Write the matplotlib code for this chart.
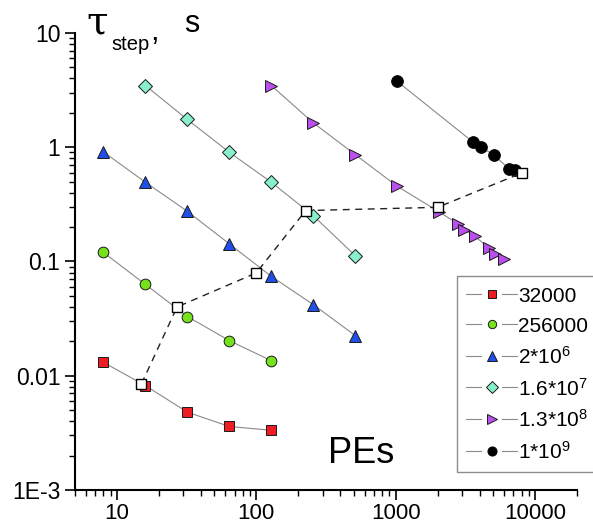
import numpy as np
import matplotlib
matplotlib.use("Agg")
import matplotlib.pyplot as plt
from matplotlib.lines import Line2D
from matplotlib.legend_handler import HandlerBase
from matplotlib.ticker import FixedLocator, FuncFormatter, LogLocator, NullFormatter

plt.rcParams["font.family"] = ["Liberation Sans", "DejaVu Sans"]
plt.rcParams["mathtext.fontset"] = "custom"
plt.rcParams["mathtext.rm"] = "Liberation Sans"
plt.rcParams["mathtext.default"] = "regular"

# ---- data: step time vs number of processing elements ----
labels = ["32000", "256000", r"2*10$^{6}$", r"1.6*10$^{7}$", r"1.3*10$^{8}$", r"1*10$^{9}$"]

pes_32k = [8, 16, 32, 64, 128]
tau_32k = [0.0131, 0.0082, 0.0048, 0.0036, 0.00333]

pes_256k = [8, 16, 32, 64, 128]
tau_256k = [0.120, 0.063, 0.033, 0.0203, 0.01355]

pes_2m = [8, 16, 32, 64, 128, 256, 512]
tau_2m = [0.91, 0.494, 0.275, 0.1426, 0.0742, 0.042, 0.0225]

pes_16m = [16, 32, 64, 128, 256, 512]
tau_16m = [3.47, 1.75, 0.904, 0.494, 0.252, 0.1127]

pes_130m = [128, 256, 512, 1024, 2048, 2800, 3100, 3700, 4700, 5200, 6000]
tau_130m = [3.47, 1.636, 0.863, 0.456, 0.272, 0.213, 0.190, 0.166, 0.1305, 0.117, 0.105]

pes_1g = [1024, 3600, 4100, 5100, 6500, 7200]
tau_1g = [3.78, 1.106, 1.0, 0.851, 0.647, 0.629]

# optimal points joined by the dashed curve
pes_opt = [15, 27, 100, 226, 2000, 8070]
tau_opt = [0.0085, 0.040, 0.0795, 0.279, 0.298, 0.597]

series = [
    (pes_32k, tau_32k, "s", "#ee1d24", 6.8),
    (pes_256k, tau_256k, "o", "#76e21e", 7.7),
    (pes_2m, tau_2m, "^", "#1f4fe8", 8.9),
    (pes_16m, tau_16m, "D", "#88f0c9", 7.4),
    (pes_130m, tau_130m, ">", "#b950ee", 8.6),
    (pes_1g, tau_1g, "o", "#000000", 8.4),
]

W, H = 593, 526
fig = plt.figure(figsize=(W / 100, H / 100), dpi=100)
ax = fig.add_axes([75 / W, 1 - 490 / H, 502 / W, 457 / H])

handles = []
for (x, y, m, c, ms), lab in zip(series, labels):
    h, = ax.plot(x, y, color="#8a8a8a", lw=0.8, marker=m, ms=ms,
                 mfc=c, mec="#1a1a1a" if c != "#000000" else "#000000",
                 mew=0.7, label=lab, zorder=3)
    handles.append(h)

ax.plot(pes_opt, tau_opt, color="#222222", lw=1.0, ls=(0, (5, 4)),
        marker="s", ms=7.0, mfc="white", mec="black", mew=1.0, zorder=5)

ax.set_xscale("log")
ax.set_yscale("log")
ax.set_xlim(5, 20000)
ax.set_ylim(1e-3, 10)

for side in ("top", "right"):
    ax.spines[side].set_visible(False)
for side in ("left", "bottom"):
    ax.spines[side].set_linewidth(1.5)

ax.xaxis.set_major_locator(FixedLocator([10, 100, 1000, 10000]))
ax.xaxis.set_major_formatter(FuncFormatter(lambda v, p: f"{int(round(v))}"))
ax.xaxis.set_minor_locator(LogLocator(base=10, subs=np.arange(2, 10), numticks=20))
ax.xaxis.set_minor_formatter(NullFormatter())

ytick_vals = [1e-3, 1e-2, 1e-1, 1, 10]
ytick_text = ["1E-3", "0.01", "0.1", "1", "10"]
ax.yaxis.set_major_locator(FixedLocator(ytick_vals))
ax.yaxis.set_major_formatter(FuncFormatter(
    lambda v, p: ytick_text[int(np.argmin([abs(np.log10(v) - np.log10(t)) for t in ytick_vals]))]))
ax.yaxis.set_minor_locator(LogLocator(base=10, subs=np.arange(2, 10), numticks=20))
ax.yaxis.set_minor_formatter(NullFormatter())

ax.tick_params(which="major", direction="out", length=7, width=1.2, labelsize=16.5, pad=3.5)
ax.tick_params(which="minor", direction="out", length=4, width=1.0)
ax.tick_params(axis="x", which="major", labelsize=16, pad=2.2)


class GapLineHandler(HandlerBase):
    """Line - symbol - line legend key with a gap around the symbol."""

    def create_artists(self, legend, orig_handle, xdescent, ydescent,
                       width, height, fontsize, trans):
        y = (height - ydescent) / 2
        x0, x1 = -xdescent, -xdescent + width
        xm = 0.5 * (x0 + x1)
        gap = 0.2 * width
        kw = dict(color="#8a8a8a", lw=0.8)
        left = Line2D([x0, xm - gap], [y, y], **kw)
        right = Line2D([xm + gap, x1], [y, y], **kw)
        mark = Line2D([xm], [y], ls="none", marker=orig_handle.get_marker(),
                      ms=orig_handle.get_markersize() * 0.78,
                      mfc=orig_handle.get_markerfacecolor(),
                      mec=orig_handle.get_markeredgecolor(), mew=0.7)
        for a in (left, right, mark):
            a.set_transform(trans)
        return [left, right, mark]


leg = ax.legend(handles=handles, loc="upper left",
                bbox_to_anchor=((456.7 - 75) / 502, 1 - (276 - 33) / 457),
                borderaxespad=0, fontsize=15, frameon=True, fancybox=False,
                handlelength=2.45, handleheight=1.0, handletextpad=0.05,
                labelspacing=0.47, borderpad=0.45,
                handler_map={Line2D: GapLineHandler()})
leg.get_frame().set_edgecolor("#707070")
leg.get_frame().set_linewidth(1.0)

ax.text((328 - 75) / 502, 1 - (463 - 33) / 457, "PEs", transform=ax.transAxes,
        fontsize=26, va="baseline", ha="left")


def ftext(px, py, s, **kw):
    fig.text(px / W, 1 - py / H, s, va="baseline", ha="left", **kw)


ftext(86, 33, "\u03c4", fontsize=28, family=["DejaVu Serif"])
ftext(111, 50, "step", fontsize=14.5)
ftext(150, 40, ",", fontsize=22)
ftext(184, 32, "s", fontsize=22)

fig.savefig("out.png", dpi=100)
